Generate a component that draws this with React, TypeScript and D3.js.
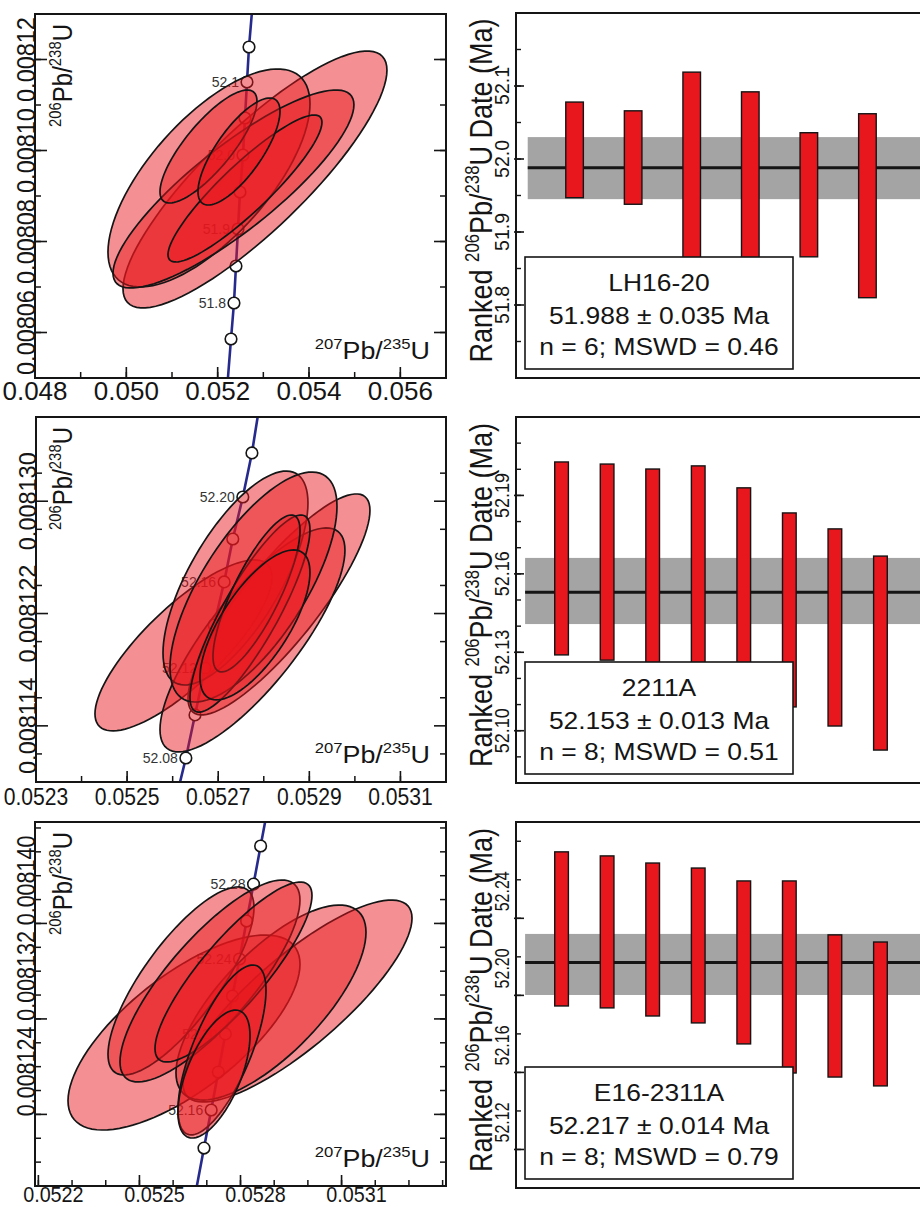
import React from 'react';
import * as d3 from 'd3';

const FONT = '"Liberation Sans", Arial, Helvetica, sans-serif';
const RED = '#e8161d';
const BLUE = '#262a8c';
const INK = '#151515';

// ---------- LH16-20 ----------
const lhConcAge = [null, 51.75, 51.8, 51.85, 51.9, 51.95, 52.0, 52.05, 52.1, 52.15, null];
const lhConcX = [0.052204, 0.052292, 0.052357, 0.052401, 0.052445, 0.052489, 0.052554, 0.052598, 0.052642, 0.052686, 0.052773];
const lhConcY = [0.00804736, 0.00805857, 0.00806648, 0.00807462, 0.00808275, 0.00809088, 0.00809901, 0.00810714, 0.00811505, 0.00812275, 0.00813308];
const lhConcLabels = [51.8, 51.9, 52.0, 52.1];
const lhEllX = [0.052817, 0.05181, 0.052346, 0.052598, 0.051799, 0.052467];
const lhEllY = [0.00809363, 0.00809396, 0.00809154, 0.00809165, 0.00810088, 0.00809978];
const lhEllSX = [0.00289, 0.002212, 0.002638, 0.001686, 0.001062, 0.000898];
const lhEllSY = [0.00002824, 0.00002396, 0.00002176, 0.00001615, 0.00001242, 0.00001176];
const lhEllRho = [0.85, 0.68, 0.85, 0.9, 0.8, 0.75];
const lhXTicks = [0.048, 0.05, 0.052, 0.054, 0.056];
const lhYTicks = [0.00806, 0.00808, 0.0081, 0.00812];
const lhRankTop = [52.078, 52.066, 52.119, 52.092, 52.036, 52.062];
const lhRankBottom = [51.947, 51.938, 51.86, 51.86, 51.866, 51.81];
const lhRankTicks = [51.8, 51.9, 52.0, 52.1];
const lhMean = 51.988;
const lhBand = [51.945, 52.03];
const lhStats = ['LH16-20', '51.988 ± 0.035 Ma', 'n = 6; MSWD = 0.46'];

// ---------- 2211A ----------
const aConcAge = [null, 52.08, 52.1, 52.12, 52.14, 52.16, 52.18, 52.2, 52.22, null];
const aConcX = [0.052612, 0.052629, 0.052649, 0.052671, 0.052691, 0.052713, 0.052732, 0.052754, 0.052774, 0.052789];
const aConcY = [0.00810943, 0.00811171, 0.00811478, 0.00811812, 0.00812119, 0.00812425, 0.00812731, 0.0081303, 0.00813344, 0.0081365];
const aConcLabels = [52.08, 52.12, 52.16, 52.2];
const aEllX = [0.05262375, 0.05283336, 0.05277519, 0.05273789, 0.05277739, 0.05276971, 0.052784, 0.05278068];
const aEllY = [0.00811973, 0.00812265, 0.00812012, 0.00812453, 0.00812389, 0.008122, 0.00812343, 0.00812119];
const aEllSX = [0.0001943, 0.0001997, 0.000203, 0.0001591, 0.0001833, 0.0001317, 0.0000955, 0.0001207];
const aEllSY = [0.00000609, 0.00000787, 0.00000798, 0.00000762, 0.00000819, 0.00000702, 0.00000559, 0.00000534];
const aEllRho = [0.8, 0.85, 0.8, 0.7, 0.7, 0.85, 0.8, 0.7];
const aXTicks = [0.0523, 0.0525, 0.0527, 0.0529, 0.0531];
const aYTicks = [0.008114, 0.008122, 0.00813];
const aRankTop = [52.2028, 52.202, 52.2001, 52.2013, 52.1929, 52.1833, 52.1772, 52.1668];
const aRankBottom = [52.129, 52.127, 52.125, 52.122, 52.117, 52.1091, 52.1018, 52.0926];
const aRankTicks = [52.1, 52.13, 52.16, 52.19];
const aMean = 52.153;
const aBand = [52.1408, 52.1661];
const aStats = ['2211A', '52.153 ± 0.013 Ma', 'n = 8; MSWD = 0.51'];

// ---------- E16-2311A ----------
const eConcAge = [null, 52.14, 52.16, 52.18, 52.2, 52.22, 52.24, 52.26, 52.28, 52.3, null];
const eConcX = [0.0526649, 0.0526916, 0.052713, 0.0527341, 0.0527551, 0.0527762, 0.052797, 0.0528181, 0.0528387, 0.0528597, 0.0528786];
const eConcY = [0.00811716, 0.00812118, 0.00812437, 0.00812755, 0.00813074, 0.00813392, 0.00813702, 0.0081402, 0.0081433, 0.00814649, 0.00814934];
const eConcLabels = [52.16, 52.2, 52.24, 52.28];
const eEllX = [0.0526323, 0.0529692, 0.0528905, 0.0526234, 0.0527094, 0.0527792, 0.0527451, 0.0527213];
const eEllY = [0.00813086, 0.0081335, 0.00813337, 0.00813518, 0.00813518, 0.00813593, 0.0081294, 0.00812738];
const eEllSX = [0.0003443, 0.0003399, 0.000282, 0.0002167, 0.0002671, 0.000233, 0.0001306, 0.0001069];
const eEllSY = [0.00000817, 0.00000846, 0.00000817, 0.00000788, 0.00000846, 0.00000754, 0.00000712, 0.00000536];
const eEllRho = [0.7, 0.82, 0.72, 0.78, 0.8, 0.85, 0.7, 0.6];
const eXTicks = [0.0522, 0.0525, 0.0528, 0.0531];
const eYTicks = [0.008124, 0.008132, 0.00814];
const eRankTop = [52.2745, 52.2724, 52.2687, 52.2661, 52.2594, 52.2594, 52.2314, 52.2277];
const eRankBottom = [52.1945, 52.1935, 52.1893, 52.1857, 52.1748, 52.1597, 52.1576, 52.153];
const eRankTicks = [52.12, 52.16, 52.2, 52.24];
const eMean = 52.217;
const eBand = [52.2002, 52.2319];
const eStats = ['E16-2311A', '52.217 ± 0.014 Ma', 'n = 8; MSWD = 0.79'];

// layout of the three rows; label arrays are [font size, horizontal stretch, shift, baseline offset]
const leftLayout = [
  { id: 'a', x0: 35, y0: 14, x1: 446, y1: 378, xDomain: [0.048, 0.057], yDomain: [0.00805, 0.00813], xMinor: 0.001, yMinor: 0.00001, xDec: 3, yDec: 5, xLab: [25, 1.04, 0, 22], yLab: [23.5, 1.08, 0], concDec: 1 },
  { id: 'b', x0: 36, y0: 417, x1: 446, y1: 782, xDomain: [0.0523, 0.0532], yDomain: [0.00811, 0.008136], xMinor: 0.0001, yMinor: 0.000004, xDec: 4, yDec: 6, xLab: [24, 0.88, 0, 23], yLab: [23.5, 1.05, 0], concDec: 2 },
  { id: 'c', x0: 35, y0: 822, x1: 446, y1: 1186, xDomain: [0.05219, 0.05341], yDomain: [0.008118, 0.0081485], xMinor: 0.0001, yMinor: 0.000002, xDec: 4, yDec: 6, xLab: [21.5, 0.92, 15, 16], yLab: [21.5, 1.17, -43], concDec: 2 },
];
const rightLayout = [
  { x0: 516, y0: 13, y1: 378, domain: [51.7, 52.2], minor: 0.05, dec: 1, lab: [19.5, 1.07, 0] },
  { x0: 516, y0: 417, y1: 783, domain: [52.08, 52.22], minor: 0.01, dec: 2, lab: [18, 1.15, 0] },
  { x0: 516, y0: 822, y1: 1188, domain: [52.1, 52.29], minor: 0.02, dec: 2, lab: [16, 1.3, -27] },
];

const leftData = [
  { concAge: lhConcAge, concX: lhConcX, concY: lhConcY, concLabels: lhConcLabels, ellX: lhEllX, ellY: lhEllY, ellSX: lhEllSX, ellSY: lhEllSY, ellRho: lhEllRho, xTicks: lhXTicks, yTicks: lhYTicks },
  { concAge: aConcAge, concX: aConcX, concY: aConcY, concLabels: aConcLabels, ellX: aEllX, ellY: aEllY, ellSX: aEllSX, ellSY: aEllSY, ellRho: aEllRho, xTicks: aXTicks, yTicks: aYTicks },
  { concAge: eConcAge, concX: eConcX, concY: eConcY, concLabels: eConcLabels, ellX: eEllX, ellY: eEllY, ellSX: eEllSX, ellSY: eEllSY, ellRho: eEllRho, xTicks: eXTicks, yTicks: eYTicks },
];
const rightData = [
  { top: lhRankTop, bottom: lhRankBottom, ticks: lhRankTicks, mean: lhMean, band: lhBand, stats: lhStats },
  { top: aRankTop, bottom: aRankBottom, ticks: aRankTicks, mean: aMean, band: aBand, stats: aStats },
  { top: eRankTop, bottom: eRankBottom, ticks: eRankTicks, mean: eMean, band: eBand, stats: eStats },
];

function minorTicks(domain: number[], step: number) {
  const lo = Math.min(domain[0], domain[1]);
  const hi = Math.max(domain[0], domain[1]);
  const n0 = Math.ceil(lo / step - 1e-6);
  const n1 = Math.floor(hi / step + 1e-6);
  return d3.range(n0, n1 + 1).map((k) => k * step);
}

function Stretch({ x, y, sx, rot, children }: any) {
  return <g transform={`translate(${x},${y}) scale(${sx},1)${rot ? ' rotate(-90)' : ''}`}>{children}</g>;
}

function Ratio({ a, b, size }: any) {
  const s = size * 0.62;
  const up = size * 0.4;
  return (
    <>
      <tspan fontSize={s} dy={-up}>{a}</tspan>
      <tspan fontSize={size} dy={up}>Pb/</tspan>
      <tspan fontSize={s} dy={-up}>{b}</tspan>
      <tspan fontSize={size} dy={up}>U</tspan>
    </>
  );
}

function ellipsePath(cx: number, cy: number, sx: number, sy: number, rho: number, xs: any, ys: any) {
  const k = Math.sqrt(1 - rho * rho);
  const pts = d3.range(0, 96).map((i) => {
    const t = (i / 96) * 2 * Math.PI;
    return [xs(cx + sx * Math.cos(t)), ys(cy + sy * (rho * Math.cos(t) + k * Math.sin(t)))] as [number, number];
  });
  return d3.line().curve(d3.curveLinearClosed)(pts) || '';
}

function LeftPanel({ L, D }: any) {
  const xs = d3.scaleLinear().domain(L.xDomain).range([L.x0, L.x1]);
  const ys = d3.scaleLinear().domain(L.yDomain).range([L.y1, L.y0]);
  const clipId = `clip-${L.id}`;
  const idx = D.concX.map((_: number, i: number) => i);
  const conc = d3.line<number>().x((i) => xs(D.concX[i])).y((i) => ys(D.concY[i]))(idx) || '';
  const fx = d3.format(`.${L.xDec}f`);
  const fy = d3.format(`.${L.yDec}f`);
  const fa = d3.format(`.${L.concDec}f`);
  const xMinor = minorTicks(L.xDomain, L.xMinor);
  const yMinor = minorTicks(L.yDomain, L.yMinor);
  const [xls, xlst, xlsh, xlb] = L.xLab;
  const [yls, ylst, ylsh] = L.yLab;
  const ts = 24;
  return (
    <g>
      <defs>
        <clipPath id={clipId}>
          <rect x={L.x0} y={L.y0} width={L.x1 - L.x0} height={L.y1 - L.y0} />
        </clipPath>
      </defs>
      <g clipPath={`url(#${clipId})`}>
        <path d={conc} fill="none" stroke={BLUE} strokeWidth={2.6} />
        {idx.filter((i: number) => D.concAge[i] !== null).map((i: number) => (
          <circle key={i} cx={xs(D.concX[i])} cy={ys(D.concY[i])} r={5.8} fill="#fff" stroke={INK} strokeWidth={1.6} />
        ))}
        {idx.filter((i: number) => D.concAge[i] !== null && D.concLabels.some((a: number) => Math.abs(a - D.concAge[i]) < 1e-6)).map((i: number) => (
          <text key={`l${i}`} x={xs(D.concX[i]) - 8} y={ys(D.concY[i]) + 5} fontSize={14} fill="#333" textAnchor="end">
            {fa(D.concAge[i])}
          </text>
        ))}
        {D.ellX.map((_: number, i: number) => (
          <path key={`e${i}`} d={ellipsePath(D.ellX[i], D.ellY[i], D.ellSX[i], D.ellSY[i], D.ellRho[i], xs, ys)}
            fill={RED} fillOpacity={0.48} stroke={INK} strokeWidth={1.7} />
        ))}
      </g>
      {/* ticks */}
      {xMinor.map((v, i) => (
        <line key={`xm${i}`} x1={xs(v)} x2={xs(v)} y1={L.y1} y2={L.y1 - 6} stroke={INK} strokeWidth={1.5} />
      ))}
      {D.xTicks.map((v: number, i: number) => (
        <line key={`xM${i}`} x1={xs(v)} x2={xs(v)} y1={L.y1} y2={L.y1 - 11} stroke={INK} strokeWidth={1.6} />
      ))}
      {yMinor.map((v, i) => (
        <g key={`ym${i}`}>
          <line x1={L.x0} x2={L.x0 + 6} y1={ys(v)} y2={ys(v)} stroke={INK} strokeWidth={1.5} />
          <line x1={L.x1} x2={L.x1 - 6} y1={ys(v)} y2={ys(v)} stroke={INK} strokeWidth={1.5} />
        </g>
      ))}
      {D.yTicks.map((v: number, i: number) => (
        <g key={`yM${i}`}>
          <line x1={L.x0} x2={L.x0 + 12} y1={ys(v)} y2={ys(v)} stroke={INK} strokeWidth={1.6} />
          <line x1={L.x1} x2={L.x1 - 12} y1={ys(v)} y2={ys(v)} stroke={INK} strokeWidth={1.6} />
        </g>
      ))}
      <rect x={L.x0} y={L.y0} width={L.x1 - L.x0} height={L.y1 - L.y0} fill="none" stroke={INK} strokeWidth={2} />
      {/* tick labels */}
      {D.xTicks.map((v: number, i: number) => (
        <Stretch key={`xl${i}`} x={xs(v) + xlsh} y={L.y1 + xlb} sx={xlst}>
          <text textAnchor="middle" fontSize={xls} fill={INK}>{fx(v)}</text>
        </Stretch>
      ))}
      {D.yTicks.map((v: number, i: number) => (
        <Stretch key={`yl${i}`} x={L.x0} y={ys(v) + ylsh} sx={ylst} rot>
          <text textAnchor="middle" fontSize={yls} fill={INK}>{fy(v)}</text>
        </Stretch>
      ))}
      {/* axis titles */}
      <Stretch x={72} y={L.y0 + 10} sx={1.12} rot>
        <text textAnchor="end" fontSize={ts} fill={INK}><Ratio a="206" b="238" size={ts} /></text>
      </Stretch>
      <Stretch x={L.x1 - 16} y={L.y1 - 19} sx={1.12}>
        <text textAnchor="end" fontSize={ts} fill={INK}><Ratio a="207" b="235" size={ts} /></text>
      </Stretch>
    </g>
  );
}

function RightPanel({ R, D }: any) {
  const n = D.top.length;
  const xs = d3.scaleLinear().domain([0, n + 1]).range([R.x0, R.x0 + 410]);
  const ys = d3.scaleLinear().domain(R.domain).range([R.y1, R.y0]);
  const bw = (xs(1) - xs(0)) * 0.3;
  const f = d3.format(`.${R.dec}f`);
  const minor = minorTicks(R.domain, R.minor);
  const [ls, lst, lsh] = R.lab;
  const boxTop = R.y1 - 9 - 112;
  const ts = 27;
  return (
    <g>
      <rect x={xs(0.2)} y={ys(D.band[1])} width={xs(n + 1) - xs(0.2)} height={ys(D.band[0]) - ys(D.band[1])} fill="#a4a4a4" />
      <line x1={xs(0.2)} x2={xs(n + 1)} y1={ys(D.mean)} y2={ys(D.mean)} stroke={INK} strokeWidth={3} />
      {D.top.map((t: number, i: number) => (
        <rect key={i} x={xs(i + 1) - bw / 2} y={ys(t)} width={bw} height={ys(D.bottom[i]) - ys(t)} fill={RED} stroke={INK} strokeWidth={1.4} />
      ))}
      <rect x={525} y={boxTop} width={268} height={112} fill="#fff" stroke={INK} strokeWidth={1.6} />
      {D.stats.map((s: string, i: number) => (
        <Stretch key={`s${i}`} x={659} y={boxTop + [34, 67, 98][i]} sx={1.15}>
          <text textAnchor="middle" fontSize={23} fill={INK}>{s}</text>
        </Stretch>
      ))}
      {minor.map((v, i) => (
        <line key={`m${i}`} x1={R.x0 - 1} x2={R.x0 + 5} y1={ys(v)} y2={ys(v)} stroke={INK} strokeWidth={1.4} />
      ))}
      {D.ticks.map((v: number, i: number) => (
        <line key={`M${i}`} x1={R.x0 - 2} x2={R.x0 + 8} y1={ys(v)} y2={ys(v)} stroke={INK} strokeWidth={1.6} />
      ))}
      <rect x={R.x0} y={R.y0} width={420} height={R.y1 - R.y0} fill="none" stroke={INK} strokeWidth={2} />
      {D.ticks.map((v: number, i: number) => (
        <Stretch key={`l${i}`} x={R.x0 - 7} y={ys(v) + lsh} sx={lst} rot>
          <text textAnchor="middle" fontSize={ls} fill={INK}>{f(v)}</text>
        </Stretch>
      ))}
      <Stretch x={492} y={(R.y0 + R.y1) / 2 - 5} sx={1.17} rot>
        <text textAnchor="middle" fontSize={ts} fill={INK}>
          {'Ranked '}<Ratio a="206" b="238" size={ts} />{' Date (Ma)'}
        </text>
      </Stretch>
    </g>
  );
}

export default function App() {
  return (
    <svg width={920} height={1207} style={{ position: 'absolute', left: 0, top: 0, fontFamily: FONT }}>
      <rect width={920} height={1207} fill="#fff" />
      {leftLayout.map((L, i) => <LeftPanel key={`L${i}`} L={L} D={leftData[i]} />)}
      {rightLayout.map((R, i) => <RightPanel key={`R${i}`} R={R} D={rightData[i]} />)}
    </svg>
  );
}
